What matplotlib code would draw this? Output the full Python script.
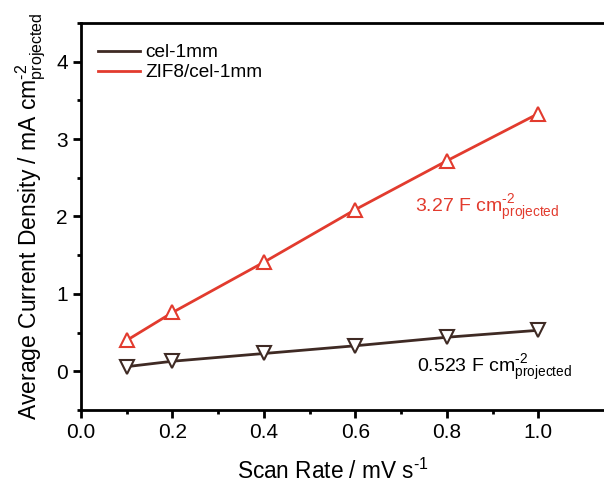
import numpy as np
import matplotlib.pyplot as plt
from matplotlib.lines import Line2D
from matplotlib.ticker import MultipleLocator, FixedLocator

plt.rcParams['font.family'] = ['Liberation Sans', 'DejaVu Sans']
plt.rcParams['mathtext.fontset'] = 'custom'
plt.rcParams['mathtext.rm'] = 'Liberation Sans'
plt.rcParams['mathtext.it'] = 'Liberation Sans:italic'

# data
scan_rate = [0.1, 0.2, 0.4, 0.6, 0.8, 1.0]
cel_1mm = [0.06, 0.13, 0.23, 0.33, 0.44, 0.53]
zif8_cel_1mm = [0.40, 0.76, 1.41, 2.09, 2.72, 3.33]
series_labels = ['cel-1mm', 'ZIF8/cel-1mm']

dark = '#3f2a24'
red = '#e23b2e'

fig = plt.figure(figsize=(6.04, 4.86), dpi=100)
# axes run a little past the right edge, as in the reference
ax = fig.add_axes([81 / 604, 76 / 486, 526 / 604, 387 / 486])

ax.plot(scan_rate, cel_1mm, color=dark, lw=2, marker='v', ms=10,
        mfc='white', mec=dark, mew=1.5)
ax.plot(scan_rate, zif8_cel_1mm, color=red, lw=2, marker='^', ms=10,
        mfc='white', mec=red, mew=1.5)

ax.set_xlim(0, 1.15)
ax.set_ylim(-0.5, 4.5)
ax.set_xticks([0.0, 0.2, 0.4, 0.6, 0.8, 1.0])
ax.xaxis.set_minor_locator(FixedLocator([0.1, 0.3, 0.5, 0.7, 0.9]))
ax.set_yticks([0, 1, 2, 3, 4])
ax.yaxis.set_minor_locator(MultipleLocator(0.5))

for s in ['top', 'bottom', 'left', 'right']:
    ax.spines[s].set_linewidth(2)
ax.tick_params(which='major', direction='out', length=6, width=2, labelsize=15)
ax.tick_params(which='minor', direction='out', length=3, width=2)

sup = lambda t: '$^{\\text{' + t + '}}$'
unit = 'cm$^{\\text{-2}}_{\\text{projected}}$'

ax.set_xlabel('Scan Rate / mV s' + sup('-1'), fontsize=16.3)
ax.xaxis.set_label_coords(0.55 / 1.15, -0.125)
ax.set_ylabel('Average Current Density / mA ' + unit, fontsize=16.5, labelpad=6)

ax.text(0.73, 2.30, '3.27 F ' + unit, color=red, fontsize=14, va='top')
ax.text(0.735, 0.24, '0.523 F ' + unit, color='black', fontsize=14, va='top')

handles = [Line2D([], [], color=dark, lw=2), Line2D([], [], color=red, lw=2)]
ax.legend(handles, series_labels, loc='upper left', frameon=False, fontsize=13.7,
          handlelength=2.2, handletextpad=0.3, labelspacing=0.15,
          bbox_to_anchor=(0.0, 0.99))

fig.savefig('out.png', dpi=100)
